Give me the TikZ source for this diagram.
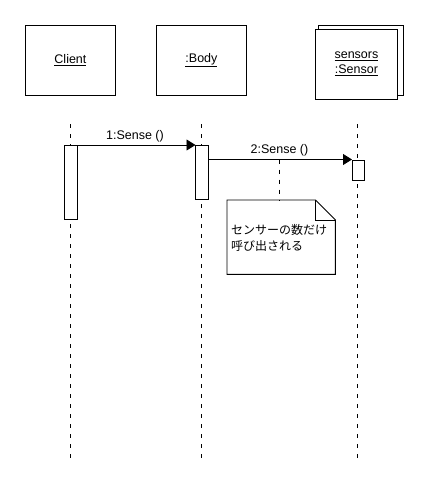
\documentclass[tikz,border=0pt]{standalone}
\usepackage{fontspec}
\setmainfont{Liberation Sans}
\newfontfamily\cjk{Noto Sans CJK JP}
\usetikzlibrary{arrows.meta}
\begin{document}
\begin{tikzpicture}[x=1pt,y=-1pt,
  every node/.style={font=\fontsize{12.5}{16}\selectfont},
  objbox/.style={draw, line width=0.9pt, fill=white, minimum width=90pt, minimum height=70pt, inner sep=0pt, anchor=north west},
  actbox/.style={draw, line width=0.9pt, fill=white, inner sep=0pt, anchor=north west},
  life/.style={line width=0.9pt, dash pattern=on 4pt off 6pt},
  msg/.style={line width=0.9pt, -{Triangle[length=9pt,width=11pt]}, shorten >=-0.5pt},
  lbl/.style={inner sep=0pt}
]
\useasboundingbox (0,0) rectangle (427,490);

% object boxes
\node[objbox] (client) at (25,25) {\raisebox{-2pt}{\underline{Client}}};
\node[objbox] (body) at (156,25) {\raisebox{-2pt}{\underline{:Body}}};
\node[objbox, minimum width=85pt] (sback) at (317.5,25) {};
\node[objbox, minimum width=82pt, align=center] (sensor) at (315,28.5) {\underline{sensors}\\[-1pt]\underline{:Sensor}};

% lifelines
\coordinate (cltop) at (70.5,124);
\coordinate (clbot) at (70.5,461);
\coordinate (bltop) at (201.5,124);
\coordinate (blbot) at (201.5,461);
\coordinate (sltop) at (357.5,124);
\coordinate (slbot) at (357.5,461);
\draw[life] (cltop) -- (clbot);
\draw[life] (bltop) -- (blbot);
\draw[life] (sltop) -- (slbot);

% activations
\node[actbox, minimum width=13pt, minimum height=74pt] (cact) at (64,145) {};
\node[actbox, minimum width=13pt, minimum height=54pt] (bact) at (195,145) {};
\node[actbox, minimum width=12.5pt, minimum height=20pt] (sact) at (351.5,159.5) {};

% messages
\draw[msg] (cact.north east) -- (bact.north west);
\node[lbl] (m1) at (135,136) {1:Sense ()};
\draw[msg] (bact.east |- sact.north west) -- (sact.north west);
\node[lbl] (m2) at (279.5,150) {2:Sense ()};

% note
\coordinate (anch) at (279.5,159.5);
\node[minimum width=108pt, minimum height=74pt, inner sep=0pt, anchor=north west] (note) at (227,200) {};
\draw[line width=0.9pt, fill=white]
  (note.north west) -- ([xshift=-20pt]note.north east) -- ([yshift=-20pt]note.north east)
  -- (note.south east) -- (note.south west) -- cycle;
\draw[line width=0.9pt] ([xshift=-20pt]note.north east) -- ([xshift=-20pt,yshift=-20pt]note.north east) -- ([yshift=-20pt]note.north east);
\draw[life] (anch) -- (anch |- note.north);
\node[lbl, anchor=north west, align=left, font=\cjk\fontsize{12}{16.5}\selectfont] (ntext) at (231,224) {センサーの数だけ\\呼び出される};
\end{tikzpicture}
\end{document}
